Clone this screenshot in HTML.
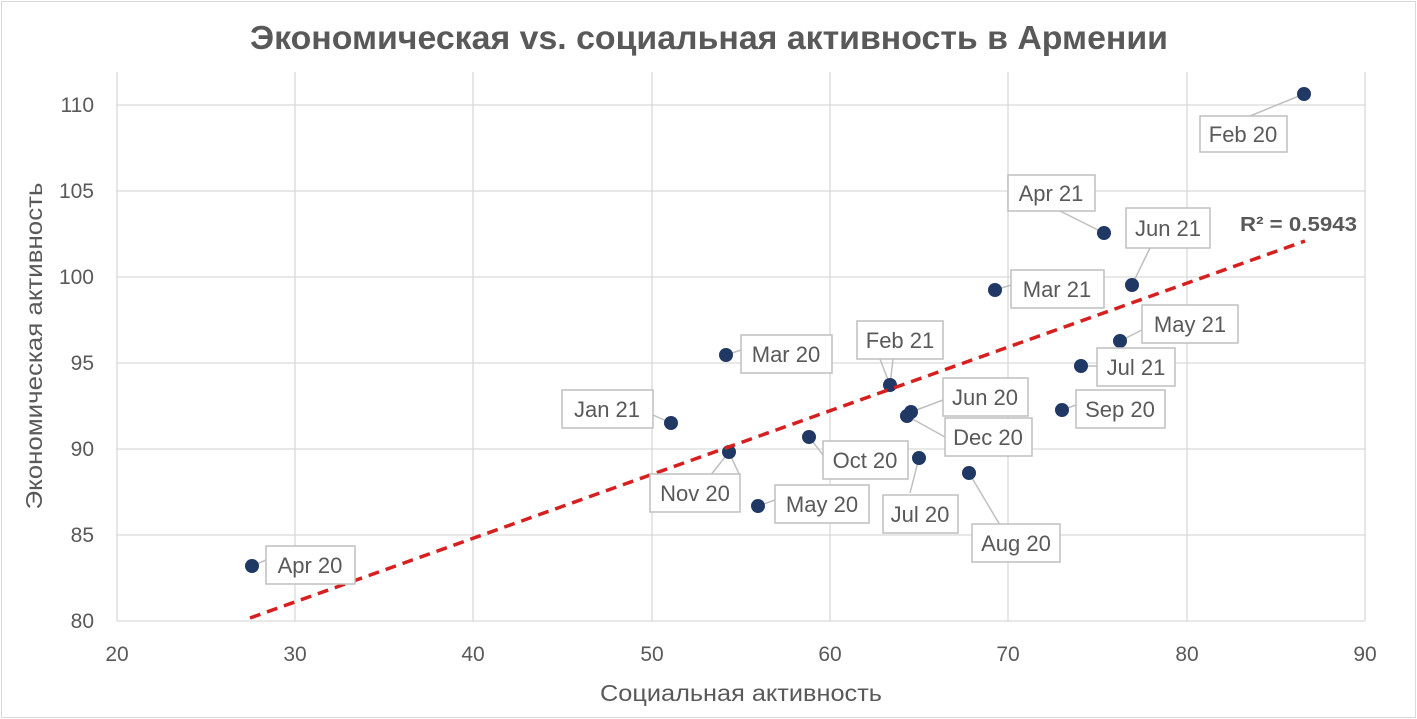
<!DOCTYPE html><html><head><meta charset="utf-8"><style>body{margin:0;background:#fff}svg{display:block}text{font-family:"Liberation Sans",sans-serif}</style></head><body>
<svg width="1417" height="719" viewBox="0 0 1417 719">
<rect x="1.5" y="1.5" width="1414" height="716" fill="#fff" stroke="#d9d9d9"/>
<text x="709" y="49" text-anchor="middle" font-size="33" font-weight="bold" fill="#595959" textLength="918" lengthAdjust="spacingAndGlyphs">Экономическая vs. социальная активность в Армении</text>
<g stroke="#d9d9d9" stroke-width="1.3">
<line x1="117" y1="105" x2="1365" y2="105"/><line x1="117" y1="191" x2="1365" y2="191"/><line x1="117" y1="277" x2="1365" y2="277"/><line x1="117" y1="363" x2="1365" y2="363"/><line x1="117" y1="449" x2="1365" y2="449"/><line x1="117" y1="535" x2="1365" y2="535"/><line x1="117" y1="621" x2="1365" y2="621"/>
<line x1="117" y1="72" x2="117" y2="621"/><line x1="295" y1="72" x2="295" y2="621"/><line x1="473" y1="72" x2="473" y2="621"/><line x1="652" y1="72" x2="652" y2="621"/><line x1="830" y1="72" x2="830" y2="621"/><line x1="1008" y1="72" x2="1008" y2="621"/><line x1="1187" y1="72" x2="1187" y2="621"/><line x1="1365" y1="72" x2="1365" y2="621"/>
</g>
<g font-size="21" fill="#595959" text-anchor="end">
<text x="94" y="112">110</text><text x="94" y="198">105</text><text x="94" y="284">100</text><text x="94" y="370">95</text><text x="94" y="456">90</text><text x="94" y="542">85</text><text x="94" y="628">80</text></g>
<g font-size="21" fill="#595959" text-anchor="middle">
<text x="117" y="661">20</text><text x="295" y="661">30</text><text x="473" y="661">40</text><text x="652" y="661">50</text><text x="830" y="661">60</text><text x="1008" y="661">70</text><text x="1187" y="661">80</text><text x="1365" y="661">90</text>
<text x="741" y="701" font-size="23" textLength="282" lengthAdjust="spacingAndGlyphs">Социальная активность</text>
<text transform="translate(42,346) rotate(-90)" font-size="23" textLength="327" lengthAdjust="spacingAndGlyphs">Экономическая активность</text></g>
<g stroke="#bfbfbf" stroke-width="1.5" fill="none">
<path d="M1304 94L1250 116M1104 233L1060 211M1132 285L1150 248M995 290L1011 285M1120 341L1142 330M1081 366L1097 366M1062 410L1076 405M890 385L880 359M890 385L893 359M911 412L943 400M907 416L945 437M726 355L741 350M671 423L653 415M809 437L823 455M729 452L710 476M729 452L740 476M919 458L910 493M969 473L1000 525M758 506L775 500M252 566L266 560"/></g>
<g fill="#1f3864">
<circle cx="1304" cy="94" r="7"/><circle cx="1104" cy="233" r="7"/><circle cx="1132" cy="285" r="7"/><circle cx="995" cy="290" r="7"/><circle cx="1120" cy="341" r="7"/><circle cx="1081" cy="366" r="7"/><circle cx="1062" cy="410" r="7"/><circle cx="890" cy="385" r="7"/><circle cx="911" cy="412" r="7"/><circle cx="907" cy="416" r="7"/><circle cx="726" cy="355" r="7"/><circle cx="671" cy="423" r="7"/><circle cx="809" cy="437" r="7"/><circle cx="729" cy="452" r="7"/><circle cx="919" cy="458" r="7"/><circle cx="969" cy="473" r="7"/><circle cx="758" cy="506" r="7"/><circle cx="252" cy="566" r="7"/></g>
<line x1="250" y1="618" x2="1305" y2="241" stroke="#d62020" stroke-width="3.5" stroke-dasharray="11,7"/>
<text x="1240" y="231" font-size="20" font-weight="bold" fill="#595959" textLength="117" lengthAdjust="spacingAndGlyphs">R² = 0.5943</text>
<g stroke="#bfbfbf" stroke-width="1.5" fill="#fff">
<rect x="1200" y="116" width="87" height="36"/><rect x="1008" y="175" width="87" height="36"/><rect x="1126" y="208" width="84" height="40"/><rect x="1011" y="270" width="93" height="38"/><rect x="1142" y="305" width="96" height="38"/><rect x="1097" y="348" width="78" height="38"/><rect x="1076" y="390" width="89" height="38"/><rect x="857" y="321" width="86" height="38"/><rect x="943" y="378" width="85" height="38"/><rect x="945" y="418" width="87" height="38"/><rect x="741" y="335" width="91" height="38"/><rect x="562" y="390" width="91" height="38"/><rect x="823" y="441" width="85" height="38"/><rect x="650" y="474" width="90" height="38"/><rect x="883" y="495" width="75" height="38"/><rect x="972" y="524" width="88" height="38"/><rect x="775" y="485" width="94" height="38"/><rect x="266" y="546" width="89" height="38"/></g>
<g font-size="22" fill="#595959" text-anchor="middle">
<text x="1243" y="142">Feb 20</text><text x="1051" y="201">Apr 21</text><text x="1168" y="236">Jun 21</text><text x="1057" y="297">Mar 21</text><text x="1190" y="332">May 21</text><text x="1136" y="375">Jul 21</text><text x="1120" y="417">Sep 20</text><text x="900" y="348">Feb 21</text><text x="985" y="405">Jun 20</text><text x="988" y="445">Dec 20</text><text x="786" y="362">Mar 20</text><text x="607" y="417">Jan 21</text><text x="865" y="468">Oct 20</text><text x="695" y="501">Nov 20</text><text x="920" y="522">Jul 20</text><text x="1016" y="551">Aug 20</text><text x="822" y="512">May 20</text><text x="310" y="573">Apr 20</text></g>
</svg></body></html>
